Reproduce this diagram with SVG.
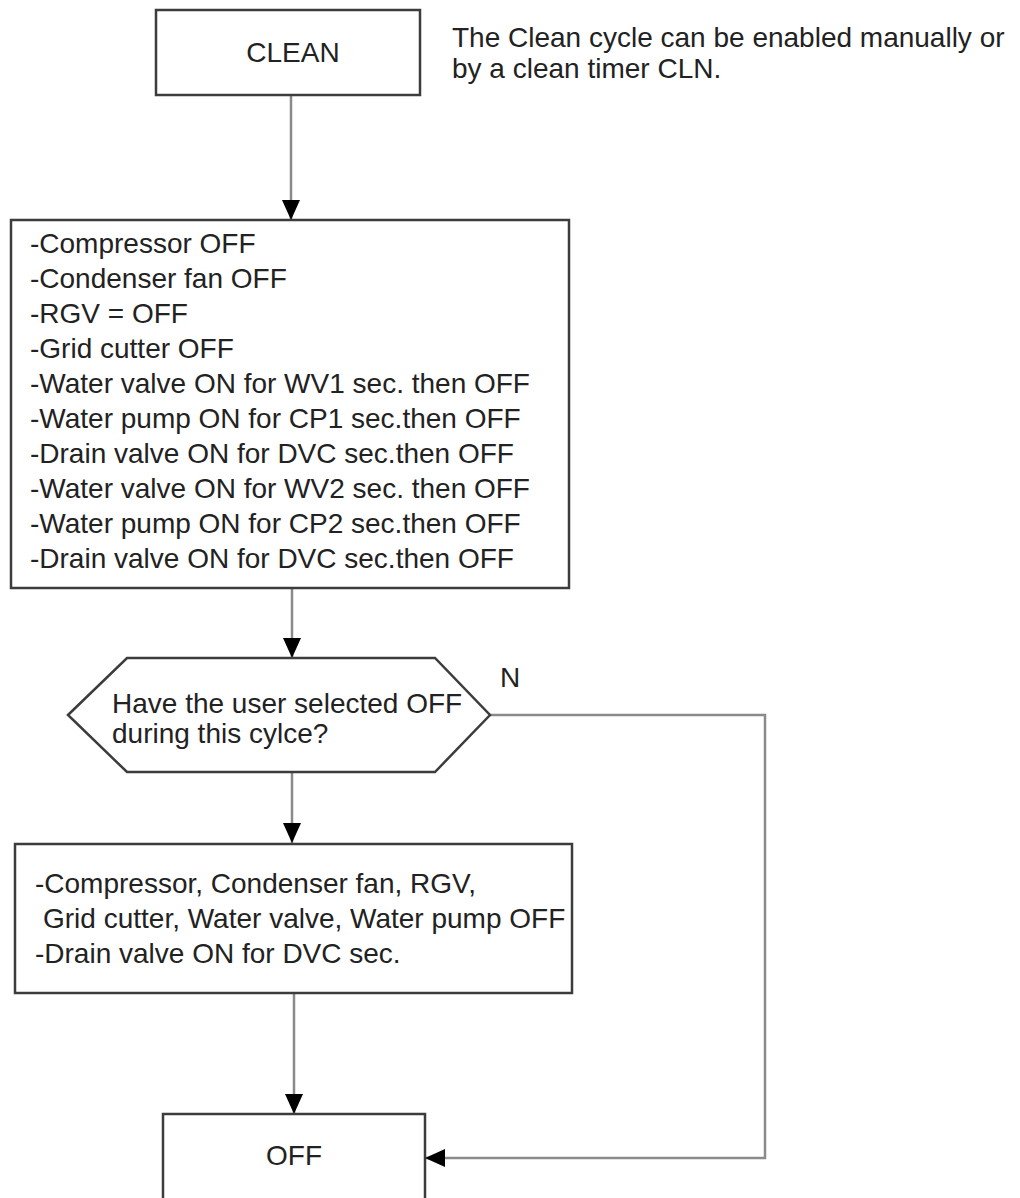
<svg xmlns="http://www.w3.org/2000/svg" width="1020" height="1198" viewBox="0 0 1020 1198">
<style>
  .box{fill:#ffffff;stroke:#3c3c3c;stroke-width:2.5}
  .t{font-family:"Liberation Sans",Arial,sans-serif;font-size:28px;fill:#222222}
  .c{text-anchor:middle}
  .line{fill:none;stroke:#8a8a8a;stroke-width:2.5}
</style>
<defs>
  <marker id="arr" markerUnits="userSpaceOnUse" markerWidth="20" markerHeight="18" refX="20" refY="9" orient="auto">
    <path d="M0,0 L20,9 L0,18 z" fill="#000000"/>
  </marker>
</defs>
<rect width="1020" height="1198" fill="#ffffff"/>

<g id="connectors">
  <path class="line" d="M291,95 V220" marker-end="url(#arr)"/>
  <path class="line" d="M292,588 V658" marker-end="url(#arr)"/>
  <path class="line" d="M292,772 V843" marker-end="url(#arr)"/>
  <path class="line" d="M294,993 V1114" marker-end="url(#arr)"/>
  <path class="line" d="M490,715 H765 V1158 H425" marker-end="url(#arr)"/>
  <text class="t" x="500" y="687" font-size="26">N</text>
</g>

<g id="clean">
  <rect class="box" x="156" y="10" width="264" height="85"/>
  <text class="t c" x="293" y="62" font-size="27">CLEAN</text>
</g>

<g id="note">
  <text class="t" x="452" y="47">The Clean cycle can be enabled manually or</text>
  <text class="t" x="452" y="78">by a clean timer CLN.</text>
</g>

<g id="steps">
  <rect class="box" x="11" y="220" width="558" height="368"/>
  <text class="t" x="30" y="253">-Compressor OFF</text>
  <text class="t" x="30" y="288">-Condenser fan OFF</text>
  <text class="t" x="30" y="323">-RGV = OFF</text>
  <text class="t" x="30" y="358">-Grid cutter OFF</text>
  <text class="t" x="30" y="393">-Water valve ON for WV1 sec. then OFF</text>
  <text class="t" x="30" y="428">-Water pump ON for CP1 sec.then OFF</text>
  <text class="t" x="30" y="463">-Drain valve ON for DVC sec.then OFF</text>
  <text class="t" x="30" y="498">-Water valve ON for WV2 sec. then OFF</text>
  <text class="t" x="30" y="533">-Water pump ON for CP2 sec.then OFF</text>
  <text class="t" x="30" y="568">-Drain valve ON for DVC sec.then OFF</text>
</g>

<g id="decision">
  <polygon class="box" points="68,715 127,658 435,658 490,715 435,772 127,772"/>
  <text class="t" x="112" y="713">Have the user selected OFF</text>
  <text class="t" x="112" y="743">during this cylce?</text>
</g>

<g id="shutdown">
  <rect class="box" x="15" y="844" width="557" height="149"/>
  <text class="t" x="35" y="893">-Compressor, Condenser fan, RGV,</text>
  <text class="t" x="43" y="928">Grid cutter, Water valve, Water pump OFF</text>
  <text class="t" x="35" y="963">-Drain valve ON for DVC sec.</text>
</g>

<g id="off">
  <rect class="box" x="163" y="1114" width="262" height="100"/>
  <text class="t c" x="294" y="1165">OFF</text>
</g>
</svg>
